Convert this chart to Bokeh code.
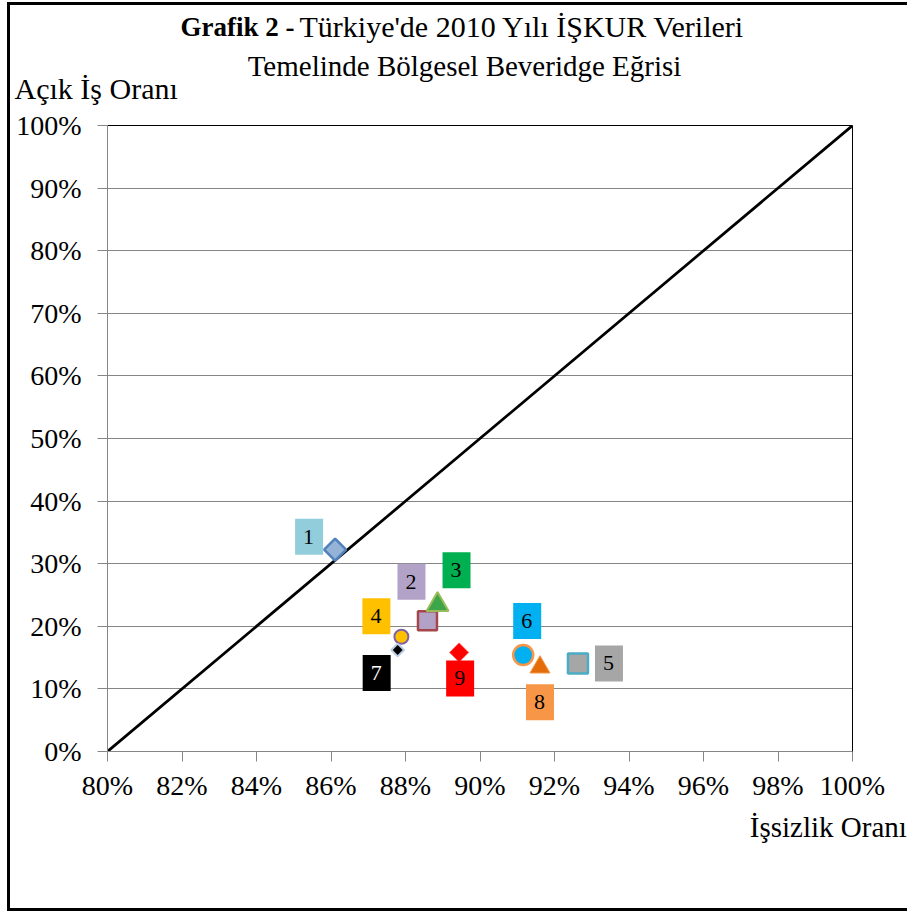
from bokeh.plotting import figure
from bokeh.layouts import column
from bokeh.models import Range1d, FixedTicker, PrintfTickFormatter, LinearAxis, ColumnDataSource
from bokeh.embed import file_html
from bokeh.resources import INLINE
from bokeh.core.properties import value

# ---------------- data ----------------
regions = ["1", "2", "3", "4", "5", "6", "7", "8", "9"]
unemployment = [86.11, 88.59, 88.86, 87.89, 92.63, 91.16, 87.79, 91.61, 89.44]   # İşsizlik Oranı (%)
vacancy = [32.24, 20.89, 23.44, 18.33, 14.06, 15.41, 16.21, 13.46, 15.82]        # Açık İş Oranı (%)
diag_x = [80, 100]
diag_y = [0, 100]
x_ticks = [80, 82, 84, 86, 88, 90, 92, 94, 96, 98, 100]
y_ticks = [0, 10, 20, 30, 40, 50, 60, 70, 80, 90, 100]

title_bold = "Grafik 2 -"
title_rest = "Türkiye'de 2010 Yılı İŞKUR Verileri"
title_line2 = "Temelinde Bölgesel Beveridge Eğrisi"
y_title = "Açık İş Oranı"
x_title = "İşsizlik Oranı"

# ---------------- styles ----------------
FONT = "Liberation Serif"
W = 897
marker_types = ["square", "square", "triangle", "circle", "square", "circle", "square", "triangle", "square"]
marker_angles = [45, 0, 0, 0, 0, 0, 45, 0, 45]
marker_sizes = [15.5, 19, 22, 14, 20, 20, 9, 20, 13.5]
marker_fill = ["#95B3D7", "#B3A2C7", "#3DA64A", "#FFC000", "#A6A6A6", "#00B0F0", "#000000", "#E46C0A", "#FF0000"]
marker_line = ["#4F81BD", "#A5464A", "#9BBB59", "#8064A2", "#4BACC6", "#F79646", "#B9CDE5", "#F79646", "#FF6060"]
marker_lw = [2.5, 2.5, 2, 2, 2.5, 2.5, 2, 1, 1]
label_fill = ["#92CDDC", "#B3A2C7", "#00B050", "#FFC000", "#A6A6A6", "#00B0F0", "#000000", "#F79646", "#FF0000"]
label_color = ["black", "black", "black", "black", "black", "black", "white", "black", "black"]
label_dx = [-26, -16, 19, -25, 31, 4, -21, 0, 1]
label_dy = [-13, -39, -34.5, -20.5, 0, -34, 23, 35, 26]

src = ColumnDataSource(dict(
    x=unemployment, y=vacancy, name=regions,
    marker=marker_types, angle=marker_angles, size=marker_sizes,
    fill=marker_fill, line=marker_line, lw=marker_lw,
    lfill=label_fill, lcolor=label_color, dx=label_dx, dy=label_dy,
))


def text_panel(h):
    f = figure(width=W, height=h, x_range=Range1d(0, W), y_range=Range1d(h, 0),
               output_backend="svg", toolbar_location=None, title_location=None,
               x_axis_type=None, y_axis_type=None,
               min_border=0, min_border_left=0, min_border_right=0,
               min_border_top=0, min_border_bottom=0)
    f.frame_align = False
    f.outline_line_color = None
    f.grid.visible = False
    f.background_fill_color = "white"
    f.border_fill_color = "white"
    return f


def put(f, txt, x, y, size, align="left", bold=False):
    f.text(x=[x], y=[y], text=[txt], text_font=value(FONT), text_font_size=size,
           text_align=align, text_baseline="alphabetic", text_color="black",
           text_font_style="bold" if bold else "normal")


# ---------------- title panel ----------------
top = text_panel(100)
put(top, title_bold, 284, 21.3, "27px", "right", True)
put(top, title_rest, 289, 21.3, "30px", "left")
put(top, title_line2, 454, 60.2, "29px", "center")
put(top, y_title, 4, 82.7, "30px", "left")

# ---------------- main plot ----------------
p = figure(width=W, height=701,
           x_range=Range1d(80, 100), y_range=Range1d(0, 100),
           output_backend="svg", toolbar_location=None,
           min_border_left=97, min_border_right=55,
           min_border_top=20, min_border_bottom=55)
p.frame_align = False
p.outline_line_color = None
p.background_fill_color = "white"
p.border_fill_color = "white"

for ax in (p.xaxis[0], p.yaxis[0]):
    ax.axis_line_color = "#868686"
    ax.major_tick_line_color = "#868686"
    ax.minor_tick_line_color = None
    ax.major_tick_in = 0
    ax.major_tick_out = 10
    ax.major_label_text_font = FONT
    ax.major_label_text_font_size = "28px"
    ax.major_label_text_color = "black"
    ax.formatter = PrintfTickFormatter(format="%d%%")
p.xaxis[0].ticker = FixedTicker(ticks=x_ticks)
p.yaxis[0].ticker = FixedTicker(ticks=y_ticks)
p.xaxis[0].major_label_standoff = 8
p.yaxis[0].major_label_standoff = 16

for loc in ("right", "above"):
    a = LinearAxis(axis_line_color="black", major_tick_line_color=None,
                   minor_tick_line_color=None, major_label_text_font_size="0px",
                   major_label_standoff=0, ticker=FixedTicker(ticks=[]))
    p.add_layout(a, loc)

p.xgrid.visible = False
p.ygrid.grid_line_color = "#868686"
p.ygrid.grid_line_width = 1
p.ygrid.ticker = FixedTicker(ticks=y_ticks)

p.line(diag_x, diag_y, line_color="black", line_width=2.75)

p.scatter("x", "y", source=src, marker="marker", angle="angle", angle_units="deg",
          size="size", fill_color="fill", line_color="line", line_width="lw")

p.text("x", "y", text="name", source=src, x_offset="dx", y_offset="dy",
       text_font=value(FONT), text_font_size="22px", text_color="lcolor",
       text_align="center", text_baseline="middle",
       background_fill_color="lfill", padding=dict(left=8, right=9, top=11, bottom=11))

# ---------------- bottom panel ----------------
bot = text_panel(102)
put(bot, x_title, 739.3, 20.3, "29px", "left")

layout = column(top, p, bot, spacing=0)
layout.styles = {
    "margin-left": "7px", "margin-top": "2px",
    "border-left": "3px solid black", "border-top": "3px solid black",
    "border-bottom": "3px solid black",
}

open("out.html", "w").write(file_html(layout, INLINE))
